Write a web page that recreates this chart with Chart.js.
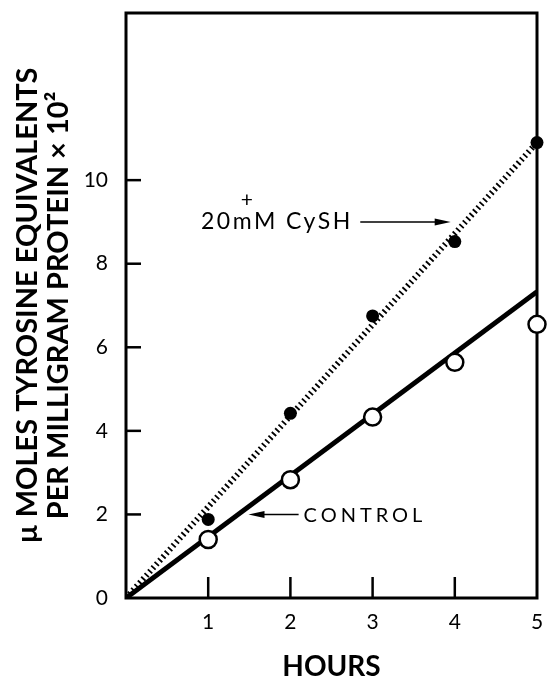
<!DOCTYPE html>
<html>
<head>
<meta charset="utf-8">
<script src="https://cdn.jsdelivr.net/npm/chart.js@4.4.1/dist/chart.umd.min.js"></script>
<style>
  html, body { margin: 0; padding: 0; background: #fff; }
  #wrap { width: 548px; height: 688px; position: relative; }
</style>
</head>
<body>
<div id="wrap"><canvas id="chart_tyrosine"></canvas></div>
<script>
// hours of incubation
var hours = [1, 2, 3, 4, 5];
// open circles (control) and filled dots (+ 20mM CySH)
var controlValues = [1.40, 2.83, 4.33, 5.64, 6.55];
var cyshValues = [1.88, 4.42, 6.75, 8.53, 10.9];
// fitted straight lines, drawn from the origin to 5 hours
var fitHours = [0, 5];
var controlFit = [0, 7.33];
var cyshFit = [0, 10.9];
// axis ticks that carry labels
var xTickLabels = [1, 2, 3, 4, 5];
var yTickLabels = [0, 2, 4, 6, 8, 10];

var FONT = 'Lato, "DejaVu Sans", sans-serif';

function pairs(xs, ys) {
    return xs.map(function (x, i) { return { x: x, y: ys[i] }; });
}

var framePlugin = {
    id: 'frameAndTicks',
    beforeDatasetsDraw: function (chart) {
        var ctx = chart.ctx, a = chart.chartArea;
        var xs = chart.scales.x, ys = chart.scales.y;
        ctx.save();
        ctx.strokeStyle = '#000';
        ctx.lineWidth = 3;
        ctx.strokeRect(a.left, a.top, a.right - a.left, a.bottom - a.top);
        // inward tick marks
        ctx.lineWidth = 2.5;
        xs.ticks.forEach(function (t) {
            if (xTickLabels.indexOf(t.value) < 0 || t.value === 5) return;
            var px = xs.getPixelForValue(t.value);
            ctx.beginPath(); ctx.moveTo(px, a.bottom); ctx.lineTo(px, a.bottom - 21); ctx.stroke();
        });
        ys.ticks.forEach(function (t) {
            if (yTickLabels.indexOf(t.value) < 0 || t.value === 0) return;
            var py = ys.getPixelForValue(t.value);
            ctx.beginPath(); ctx.moveTo(a.left, py); ctx.lineTo(a.left + 15, py); ctx.stroke();
        });
        ctx.restore();
    },
    afterDatasetsDraw: function (chart) {
        var ctx = chart.ctx;
        var xs = chart.scales.x, ys = chart.scales.y;
        ctx.save();
        ctx.fillStyle = '#000';
        ctx.strokeStyle = '#000';
        ctx.textBaseline = 'middle';

        // "+ 20mM CySH" with arrow pointing at the dotted line
        var yA = ys.getPixelForValue(9.0);
        ctx.font = '23px ' + FONT;
        ctx.letterSpacing = '2.5px';
        ctx.textAlign = 'right';
        ctx.fillText('20mM CySH', xs.getPixelForValue(2.76), yA);
        ctx.letterSpacing = '0px';
        ctx.font = '21px ' + FONT;
        ctx.textAlign = 'center';
        ctx.fillText('+', xs.getPixelForValue(1.47), yA - 22);
        drawArrow(ctx, xs.getPixelForValue(2.85), xs.getPixelForValue(3.95), yA);

        // "CONTROL" with arrow pointing left at the solid line
        var yC = ys.getPixelForValue(2.0);
        ctx.font = '20px ' + FONT;
        ctx.letterSpacing = '4px';
        ctx.textAlign = 'left';
        ctx.fillText('CONTROL', xs.getPixelForValue(2.16), yC + 1);
        ctx.letterSpacing = '0px';
        drawArrow(ctx, xs.getPixelForValue(2.1), xs.getPixelForValue(1.49), yC);
        ctx.restore();
    }
};

function drawArrow(ctx, x0, x1, y) {
    var dir = x1 > x0 ? 1 : -1;
    ctx.lineWidth = 1.5;
    ctx.beginPath(); ctx.moveTo(x0, y); ctx.lineTo(x1 - dir * 10, y); ctx.stroke();
    ctx.beginPath();
    ctx.moveTo(x1, y);
    ctx.lineTo(x1 - dir * 16, y - 3.5);
    ctx.lineTo(x1 - dir * 16, y + 3.5);
    ctx.closePath();
    ctx.fill();
}

var chart_tyrosine = new Chart(document.getElementById('chart_tyrosine'), {
    type: 'scatter',
    data: {
        datasets: [
            {
                label: 'Control',
                data: pairs(hours, controlValues),
                pointStyle: 'circle',
                pointRadius: 8.5,
                pointBorderWidth: 2.5,
                pointBackgroundColor: '#fff',
                pointBorderColor: '#000',
                showLine: false,
                clip: false,
                order: 0
            },
            {
                label: '+ 20mM CySH',
                data: pairs(hours, cyshValues),
                pointStyle: 'circle',
                pointRadius: 6.5,
                pointBorderWidth: 0,
                pointBackgroundColor: '#000',
                showLine: false,
                clip: false,
                order: 1
            },
            {
                label: 'Control fit',
                data: pairs(fitHours, controlFit),
                showLine: true,
                borderColor: '#000',
                borderWidth: 5,
                pointRadius: 0,
                order: 2
            },
            {
                label: 'CySH fit',
                data: pairs(fitHours, cyshFit),
                showLine: true,
                borderColor: '#000',
                borderWidth: 6,
                borderDash: [1.8, 3.2],
                borderCapStyle: 'butt',
                pointRadius: 0,
                order: 3
            }
        ]
    },
    options: {
        animation: false,
        responsive: true,
        maintainAspectRatio: false,
        layout: { padding: { top: 13, right: 7, left: 0, bottom: 0 } },
        plugins: {
            legend: { display: false },
            tooltip: { enabled: false }
        },
        scales: {
            x: {
                type: 'linear',
                min: 0,
                max: 5,
                grid: { display: false, drawTicks: false },
                border: { display: false },
                ticks: {
                    stepSize: 1,
                    padding: 12,
                    color: '#000',
                    font: { family: FONT, size: 21 },
                    callback: function (value) {
                        return xTickLabels.indexOf(value) >= 0 ? String(value) : '';
                    }
                },
                title: {
                    display: true,
                    text: 'HOURS',
                    color: '#000',
                    font: { family: FONT, size: 28, weight: 'bold' },
                    padding: { top: 0, bottom: 4 }
                },
                afterFit: function (scale) {
                    scale.height = 90;
                    scale.paddingLeft = 0;
                    scale.paddingRight = 0;
                }
            },
            y: {
                type: 'linear',
                min: 0,
                max: 14,
                grid: { display: false, drawTicks: false },
                border: { display: false },
                ticks: {
                    stepSize: 2,
                    padding: 18,
                    color: '#000',
                    font: { family: FONT, size: 21 },
                    callback: function (value) {
                        return yTickLabels.indexOf(value) >= 0 ? String(value) : '';
                    }
                },
                title: {
                    display: true,
                    text: ['\u00b5 MOLES TYROSINE EQUIVALENTS', 'PER MILLIGRAM PROTEIN \u00d7 10\u00b2'],
                    color: '#000',
                    font: { family: FONT, size: 29, weight: 'bold', lineHeight: 1.04 },
                    padding: { top: 13, bottom: 0 }
                },
                afterFit: function (scale) {
                    scale.width = 126;
                    scale.paddingTop = 0;
                    scale.paddingBottom = 0;
                }
            }
        }
    },
    plugins: [framePlugin]
});
</script>
</body>
</html>
